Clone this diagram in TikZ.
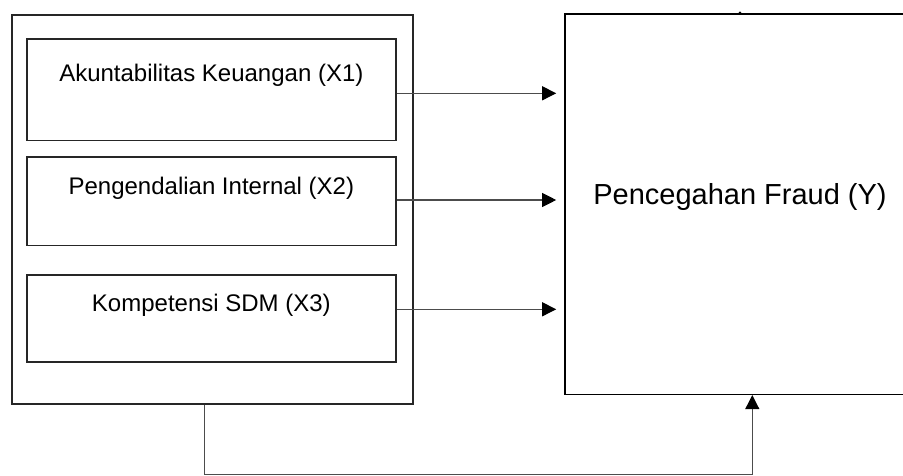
\documentclass[tikz,border=0pt]{standalone}
\usepackage{fontspec}
\setmainfont{Liberation Sans}
\usetikzlibrary{arrows.meta,positioning}

\begin{document}
\begin{tikzpicture}[x=1pt,y=-1pt]
		\tikzstyle{frame}=[draw=black!85,line width=1.6pt,rectangle,inner sep=0pt]
		\tikzstyle{varbox}=[frame,minimum width=369.3pt]
		\tikzstyle{varfont}=[font=\fontsize{24}{28}\selectfont,anchor=base,inner sep=0pt]
		\tikzstyle{link}=[draw=black!70,line width=1.1pt,arrows={-Triangle[length=14pt,width=14pt,color=black]}]

		\useasboundingbox (0,0) rectangle (903,476);

		% independent variables
		\node[frame, minimum width=401.3pt, minimum height=388.7pt] (grp) at (212.35,209.35) {};
		\node[varbox, minimum height=101.4pt, label={[varfont,yshift=-43.2pt]north:Akuntabilitas Keuangan (X1)}] (x1) at (211.35,90) {};
		\node[varbox, minimum height=88pt, label={[varfont,yshift=-37.8pt]north:Pengendalian Internal (X2)}] (x2) at (211.35,201.3) {};
		\node[varbox, minimum height=87pt, label={[varfont,yshift=-36.8pt]north:Kompetensi SDM (X3)}] (x3) at (211.35,318.5) {};

		% dependent variable
		\node[frame, draw=black, minimum width=350pt, minimum height=380.3pt,
		      label={[font=\fontsize{29}{34}\selectfont,anchor=base,inner sep=0pt,yshift=7.5pt]center:Pencegahan Fraud (Y)}] (y) at (740,204.15) {};
		\fill (740,12.7) circle (1.4pt);

		\draw [link, shorten >=8pt] (x1.east |- 0,93.3) -- (y.west |- 0,93.3);
		\draw [link, shorten >=8pt] (x2.east |- 0,200) -- (y.west |- 0,200);
		\draw [link, shorten >=8pt] (x3.east |- 0,309.3) -- (y.west |- 0,309.3);

		\coordinate (b1) at (204.3,474.3);
		\coordinate (b2) at (752.3,474.3);
		\draw [link] (b1 |- grp.south) -- (b1) -- (b2) -- (b2 |- y.south);
\end{tikzpicture}
\end{document}
